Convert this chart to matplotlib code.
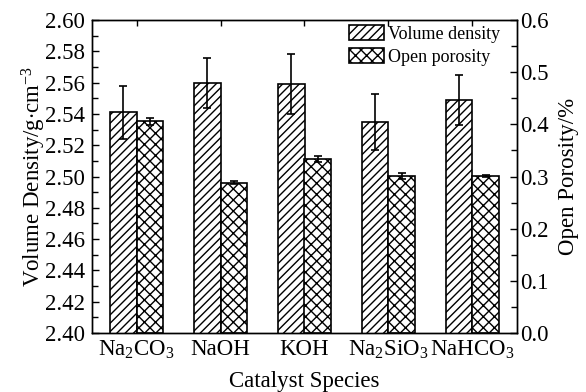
import numpy as np
import matplotlib
matplotlib.use("Agg")
import matplotlib.pyplot as plt

plt.rcParams['font.family'] = ['Liberation Serif', 'DejaVu Serif']
plt.rcParams['mathtext.fontset'] = 'custom'
plt.rcParams['mathtext.rm'] = 'Liberation Serif'
plt.rcParams['mathtext.it'] = 'Liberation Serif:italic'
plt.rcParams['hatch.linewidth'] = 1.0

# data
categories = [r'Na$_\mathrm{2}$CO$_\mathrm{3}$', 'NaOH', 'KOH',
              r'Na$_\mathrm{2}$SiO$_\mathrm{3}$', r'NaHCO$_\mathrm{3}$']
density = [2.541, 2.560, 2.559, 2.535, 2.549]
density_err = [0.017, 0.016, 0.019, 0.018, 0.016]
porosity = [0.406, 0.288, 0.334, 0.301, 0.301]
porosity_err = [0.007, 0.003, 0.006, 0.005, 0.002]

x = np.arange(1, len(categories) + 1)
w = 0.31

fig = plt.figure(figsize=(5.86, 3.92), dpi=100)
ax = fig.add_axes([92/586, 1 - 333/392, 425/586, 313/392])
ax2 = ax.twinx()

b1 = ax.bar(x - w/2, density, w, color='white', edgecolor='black',
            hatch='////', linewidth=1.2, label='Volume density')
ax.errorbar(x - w/2, density, yerr=density_err, fmt='none', ecolor='black',
            elinewidth=1.2, capsize=3, capthick=1.2)
b2 = ax2.bar(x + w/2, porosity, w, color='white', edgecolor='black',
             hatch='xxx', linewidth=1.2, label='Open porosity')
ax2.errorbar(x + w/2, porosity, yerr=porosity_err, fmt='none', ecolor='black',
             elinewidth=1.2, capsize=3, capthick=1.2)

ax.set_xlim(0.47, 5.53)
ax.set_ylim(2.40, 2.60)
ax2.set_ylim(0.0, 0.6)
ax.set_yticks(np.arange(2.40, 2.601, 0.02))
ax.set_yticks(np.arange(2.41, 2.60, 0.02), minor=True)
ax2.set_yticks(np.arange(0, 0.61, 0.1))
ax2.set_yticks(np.arange(0.05, 0.6, 0.1), minor=True)
ax.set_xticks(x)
ax.set_xticklabels(categories)

fs = 16.5
ax.tick_params(axis='both', which='both', direction='in', labelsize=fs, width=1.0)
ax.tick_params(axis='y', which='major', length=5, pad=5)
ax.tick_params(axis='y', which='minor', length=4)
ax.tick_params(axis='x', top=True, length=4, pad=4)
ax2.tick_params(axis='y', which='both', direction='in', labelsize=fs, width=1.0)
ax2.tick_params(axis='y', which='major', length=5, pad=2)
ax2.tick_params(axis='y', which='minor', length=4)
ax.yaxis.set_major_formatter(matplotlib.ticker.FormatStrFormatter('%.2f'))
ax2.yaxis.set_major_formatter(matplotlib.ticker.FormatStrFormatter('%.1f'))

for a in (ax, ax2):
    for s in a.spines.values():
        s.set_linewidth(1.0)

ax.set_xlabel('Catalyst Species', fontsize=fs, labelpad=7)
ax.set_ylabel(r'Volume Density/g$\cdot$cm$^{-3}$', fontsize=fs, labelpad=-2)
ax2.set_ylabel('Open Porosity/%', fontsize=fs, labelpad=7)

ax.legend([b1, b2], ['Volume density', 'Open porosity'], loc='upper right',
          frameon=False, fontsize=13, handlelength=1.95, handleheight=0.9,
          handletextpad=0.2, labelspacing=0.3, borderaxespad=0.3,
          bbox_to_anchor=(0.99, 1.025))

fig.savefig('out.png', dpi=100)
